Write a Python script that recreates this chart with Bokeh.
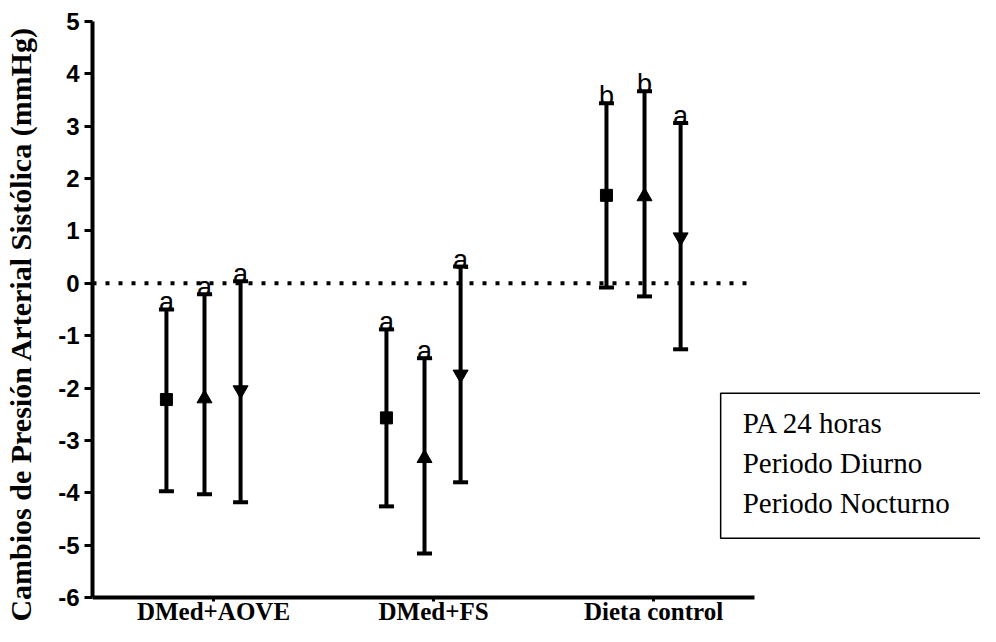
from bokeh.plotting import figure
from bokeh.models import Range1d, FixedTicker, BoxAnnotation, Label, ColumnDataSource
from bokeh.core.properties import value
from bokeh.embed import file_html
from bokeh.resources import INLINE

# ---------------- data ----------------
groups = ["DMed+AOVE", "DMed+FS", "Dieta control"]
series = ["PA 24 horas", "Periodo Diurno", "Periodo Nocturno"]

mean_24h = [-2.22, -2.57, 1.68]
upper_24h = [-0.50, -0.88, 3.44]
lower_24h = [-3.97, -4.26, -0.08]
letters_24h = ["a", "a", "b"]

mean_diurno = [-2.20, -3.34, 1.66]
upper_diurno = [-0.21, -1.43, 3.67]
lower_diurno = [-4.03, -5.16, -0.25]
letters_diurno = ["a", "a", "b"]

mean_nocturno = [-2.04, -1.74, 0.88]
upper_nocturno = [0.04, 0.32, 3.06]
lower_nocturno = [-4.18, -3.80, -1.26]
letters_nocturno = ["a", "a", "a"]

y_ticks = [-6, -5, -4, -3, -2, -1, 0, 1, 2, 3, 4, 5]
y_tick_labels = ["-6", "-5", "-4", "-3", "-2", "-1", "0", "1", "2", "3", "4", "5"]

# ---------------- layout constants ----------------
group_pos = [1, 2, 3]
offsets = [-0.214, -0.041, 0.123]
markers = ["square", "triangle", "inverted_triangle"]
marker_sizes = [12, 15, 15]
X_LO, X_HI, X_AXIS_END = 0.45, 4.486, 3.459
Y_AXIS_LO, Y_HI = -6, 5
Y_FRAME_LO = -6.554   # frame continues below the axis to leave room for labels

p = figure(width=980, height=626, output_backend="svg", toolbar_location=None,
           x_range=Range1d(X_LO, X_HI), y_range=Range1d(Y_FRAME_LO, Y_HI),
           min_border_left=92, min_border_right=0, min_border_top=21,
           min_border_bottom=0)
p.outline_line_color = None
p.grid.visible = False
p.background_fill_color = "white"
p.border_fill_color = "white"

# x axis, pinned at y = -6 inside the frame
p.xaxis.fixed_location = Y_AXIS_LO
p.xaxis.ticker = FixedTicker(ticks=group_pos)
p.xaxis.major_label_overrides = {g: name for g, name in zip(group_pos, groups)}
p.xaxis.bounds = (X_LO, X_AXIS_END)
p.xaxis.axis_line_width = 4
p.xaxis.major_tick_line_width = 3
p.xaxis.major_tick_out = 4
p.xaxis.major_tick_in = 0
p.xaxis.minor_tick_line_color = None
p.xaxis.major_label_standoff = -3
p.xaxis.major_label_text_font = "Liberation Serif"
p.xaxis.major_label_text_font_style = "bold"
p.xaxis.major_label_text_font_size = "25px"
p.xaxis.major_label_text_color = "black"

p.yaxis.ticker = FixedTicker(ticks=y_ticks)
p.yaxis.bounds = (Y_AXIS_LO, Y_HI)
p.yaxis.major_label_overrides = {t: s for t, s in zip(y_ticks, y_tick_labels)}
p.yaxis.axis_line_width = 4
p.yaxis.major_tick_line_width = 3
p.yaxis.major_tick_out = 8
p.yaxis.major_tick_in = 0
p.yaxis.minor_tick_line_color = None
p.yaxis.major_label_standoff = 5
p.yaxis.major_label_text_font = "Liberation Sans"
p.yaxis.major_label_text_font_style = "bold"
p.yaxis.major_label_text_font_size = "24px"
p.yaxis.major_label_text_color = "black"
p.yaxis.axis_label = "Cambios de Presión Arterial Sistólica (mmHg)"
p.yaxis.axis_label_text_font = "Liberation Serif"
p.yaxis.axis_label_text_font_style = "bold"
p.yaxis.axis_label_text_font_size = "30px"
p.yaxis.axis_label_text_color = "black"
p.yaxis.axis_label_standoff = 18

# zero dotted line
p.line(x=[X_LO, X_AXIS_END], y=[0, 0], line_color="black", line_width=4,
       line_dash="4 9")

all_means = [mean_24h, mean_diurno, mean_nocturno]
all_up = [upper_24h, upper_diurno, upper_nocturno]
all_lo = [lower_24h, lower_diurno, lower_nocturno]
all_letters = [letters_24h, letters_diurno, letters_nocturno]

for i in range(3):
    xs = [g + offsets[i] for g in group_pos]
    src = ColumnDataSource(dict(x=xs, m=all_means[i], up=all_up[i], lo=all_lo[i],
                                let=all_letters[i]))
    p.segment(x0="x", y0="lo", x1="x", y1="up", source=src, line_color="black",
              line_width=4)
    p.scatter(x="x", y="up", source=src, marker="dash", size=15, line_width=4,
              line_color="black")
    p.scatter(x="x", y="lo", source=src, marker="dash", size=15, line_width=4,
              line_color="black")
    p.scatter(x="x", y="m", source=src, marker=markers[i], size=marker_sizes[i],
              fill_color="black", line_color="black")
    p.text(x="x", y="up", text="let", source=src, text_align="center",
           text_baseline="alphabetic", y_offset=-7, text_font=value("Liberation Sans"),
           text_font_size="27px", text_color="black")

# legend box (text only, as in reference)
box = BoxAnnotation(left=3.305, right=X_HI + 1.0, top=-2.10, bottom=-4.87,
                    fill_alpha=0, line_color="black", line_alpha=1.0, line_width=1.5)
p.add_layout(box)
legend_y = [-2.674, -3.438, -4.202]
for name, ly in zip(series, legend_y):
    p.add_layout(Label(x=3.405, y=ly, text=name, text_baseline="middle",
                       text_font="Liberation Serif", text_font_size="29px",
                       text_color="black"))

open("out.html", "w").write(file_html(p, INLINE))
